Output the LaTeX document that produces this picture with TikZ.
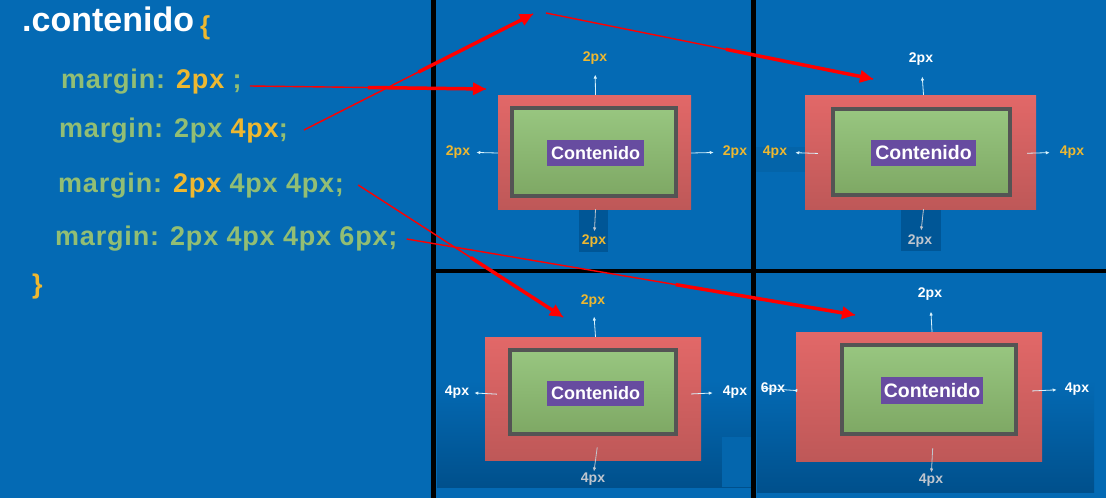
\documentclass[tikz,border=0pt]{standalone}
\usepackage{fontspec}
\setmainfont{Liberation Sans}
\usepackage{xcolor}
\usepackage{tikz}
\usetikzlibrary{arrows.meta,calc}
\newfontfamily\codefont[LetterSpace=3]{Liberation Sans}
\definecolor{bgblue}{RGB}{4,106,180}
\definecolor{deepblue}{RGB}{0,80,140}
\definecolor{patchblue}{RGB}{0,86,150}
\definecolor{codegreen}{RGB}{146,190,116}
\definecolor{codeyellow}{RGB}{238,184,48}
\definecolor{boxred}{RGB}{226,104,104}
\definecolor{boxredlow}{RGB}{190,88,88}
\definecolor{framegray}{RGB}{84,84,84}
\definecolor{fillgreen}{RGB}{152,198,128}
\definecolor{fillgreenlow}{RGB}{126,168,100}
\definecolor{labpurple}{RGB}{103,76,160}
\definecolor{tipgray}{RGB}{192,198,206}

\begin{document}
\begin{tikzpicture}[x=1pt, y=-1pt,
  code/.style={anchor=base west, inner sep=0, text=codegreen, font=\codefont\bfseries\fontsize{27}{30}\selectfont},
  margbox/.style={top color=boxred, bottom color=boxredlow, inner sep=0},
  frame/.style={draw=framegray, line width=4pt, top color=fillgreen, bottom color=fillgreenlow, inner sep=0},
  cont/.style={fill=labpurple, text=white, inner sep=0, font=\bfseries\fontsize{18}{18}\selectfont},
  px/.style={inner sep=1pt, font=\bfseries\fontsize{14}{14}\selectfont},
  tick/.style={draw=white!85!cyan, line width=0.8pt, -{Latex[length=4pt,width=3.5pt]}},
  red thin/.style={draw=red, line width=1.4pt},
  red arrow/.style={draw=red, line width=3.5pt, -{Triangle[length=13pt,width=12pt]}},
  divider/.style={line width=4.5pt}
]
\useasboundingbox (0,0) rectangle (1106,498);
\fill[bgblue] (0,0) rectangle (1106,498);

% darker patches of the screenshots
\fill[patchblue] (579,209) rectangle (608,252);
\fill[patchblue] (901,209) rectangle (941,251);
\fill[bgblue!94!black] (755,147) rectangle (805,172);
\shade[top color=bgblue, bottom color=deepblue] (437,380) rectangle (752,487);
\fill[bgblue!96!black] (722,437) rectangle (752,487);
\shade[top color=bgblue, bottom color=deepblue] (757,380) rectangle (1094,492);

\draw[divider] (433.5,0) -- (433.5,498);
\draw[divider] (753.5,0) -- (753.5,498);
\draw[divider] (433.5,271) -- (1106,271);

% css rule
\node[code, text=white, font=\bfseries\fontsize{34}{36}\selectfont] (sel) at (22,31) {.contenido};
\node[code, text=codeyellow, font=\bfseries\fontsize{26}{28}\selectfont] (open) at (200,34) {\{};
\node[code] (m1) at (61,88) {margin: \textcolor{codeyellow}{2px} ;};
\node[code] (m2) at (59,137) {margin: 2px \textcolor{codeyellow}{4px};};
\node[code] (m3) at (58,192) {margin: \textcolor{codeyellow}{2px} 4px 4px;};
\node[code] (m4) at (55,245) {margin: 2px 4px 4px 6px;};
\node[code, text=codeyellow] (close) at (32,293) {\}};

% margin: 2px
\node[margbox, minimum width=193, minimum height=114] (box1) at (594.5,152) {};
\node[frame, minimum width=164, minimum height=88] (frm1) at (594,152) {};
\node[cont, minimum width=97, minimum height=26] (lab1) at (595.5,153) {Contenido};
\node[px, text=codeyellow] (top1) at (595,58) {2px};
\node[px, text=codeyellow] (left1) at (458,152) {2px};
\node[px, text=codeyellow] (right1) at (735,152) {2px};
\node[px, text=codeyellow] (bot1) at (594,241) {2px};
\draw[tick, shorten >=9pt] (box1.north -| lab1) -- (top1);
\draw[tick, shorten >=5pt] (box1.west |- lab1) -- (left1);
\draw[tick, shorten >=8pt] (box1.east |- lab1) -- (right1);
\draw[tick, draw=tipgray, shorten >=2pt] (box1.south -| lab1) -- (bot1);

% margin: 2px 4px
\node[margbox, minimum width=231, minimum height=114] (box2) at (920.5,152) {};
\node[frame, minimum width=177, minimum height=86] (frm2) at (921.5,152) {};
\node[cont, minimum width=105, minimum height=26, font=\bfseries\fontsize{19.5}{20}\selectfont] (lab2) at (923.5,153) {Contenido};
\node[px, text=white] (top2) at (921,59) {2px};
\node[px, text=codeyellow] (left2) at (775,152) {4px};
\node[px, text=codeyellow] (right2) at (1072,152) {4px};
\node[px, text=tipgray] (bot2) at (920,241) {2px};
\draw[tick, shorten >=10pt] (box2.north -| lab2) -- (top2);
\draw[tick, shorten <=-13pt, shorten >=7pt] (box2.west |- lab2) -- (left2);
\draw[tick, shorten <=-9pt, shorten >=9pt] (box2.east |- lab2) -- (right2);
\draw[tick, draw=tipgray, shorten >=3pt] (box2.south -| lab2) -- (bot2);

% margin: 2px 4px 4px
\node[margbox, minimum width=216, minimum height=123] (box3) at (593,398.5) {};
\node[frame, minimum width=166, minimum height=84] (frm3) at (593,392) {};
\node[cont, minimum width=97, minimum height=25] (lab3) at (595.5,393.5) {Contenido};
\node[px, text=codeyellow] (top3) at (593,301) {2px};
\node[px, text=white] (left3) at (457,392) {4px};
\node[px, text=white] (right3) at (735,392) {4px};
\node[px, text=tipgray] (bot3) at (593,479) {4px};
\draw[tick, shorten >=8pt] (box3.north -| lab3) -- (top3);
\draw[tick, shorten <=-12pt, shorten >=4pt] (box3.west |- lab3) -- (left3);
\draw[tick, shorten <=-10pt, shorten >=9pt] (box3.east |- lab3) -- (right3);
\draw[tick, draw=tipgray, shorten <=-13pt, shorten >=0pt] (box3.south -| lab3) -- (bot3);

% margin: 2px 4px 4px 6px
\node[margbox, minimum width=246, minimum height=129] (box4) at (919,396.5) {};
\node[frame, minimum width=174, minimum height=89] (frm4) at (929,389.5) {};
\node[cont, minimum width=102, minimum height=27, font=\bfseries\fontsize{19.5}{20}\selectfont] (lab4) at (932,390.5) {Contenido};
\node[px, text=white] (top4) at (930,294) {2px};
\node[px, text=white] (left4) at (773,389) {6px};
\node[px, text=white] (right4) at (1077,389) {4px};
\node[px, text=tipgray] (bot4) at (931,480) {4px};
\draw[tick, shorten >=10pt] (box4.north -| lab4) -- (top4);
\draw[tick, shorten <=-34pt, shorten >=7pt] (box4.west |- lab4) -- (left4);
\draw[tick, shorten <=-10pt, shorten >=7pt] (box4.east |- lab4) -- (right4);
\draw[tick, draw=tipgray, shorten <=-13pt, shorten >=0pt] (box4.south -| lab4) -- (bot4);

% red pointers
\coordinate (s1) at ([shift={(8,-2)}]m1.base east);
\coordinate (s2) at ([shift={(16,-7)}]m2.base east);
\coordinate (s3) at ([shift={(14,-7)}]m3.base east);
\coordinate (s4) at ([shift={(9,-6)}]m4.base east);
\coordinate (hit1) at (486,89);
\coordinate (hit2) at (533,14);
\coordinate (kink2) at (546,13);
\coordinate (hit2b) at (873,79);
\coordinate (hit3) at (563,317);
\coordinate (hit4) at (855,315);
\draw[red thin] (s1) -- (hit1);
\draw[red arrow] ($(s1)!.5!(hit1)$) -- (hit1);
\draw[red thin] (s2) -- (hit2);
\draw[red arrow] ($(s2)!.5!(hit2)$) -- (hit2);
\draw[red thin] (kink2) -- (hit2b);
\draw[red arrow] ($(kink2)!.55!(hit2b)$) -- (hit2b);
\draw[red thin] (s3) -- (hit3);
\draw[red arrow] ($(s3)!.55!(hit3)$) -- (hit3);
\draw[red thin] (s4) -- (hit4);
\draw[red arrow] ($(s4)!.6!(hit4)$) -- (hit4);
\end{tikzpicture}
\end{document}
